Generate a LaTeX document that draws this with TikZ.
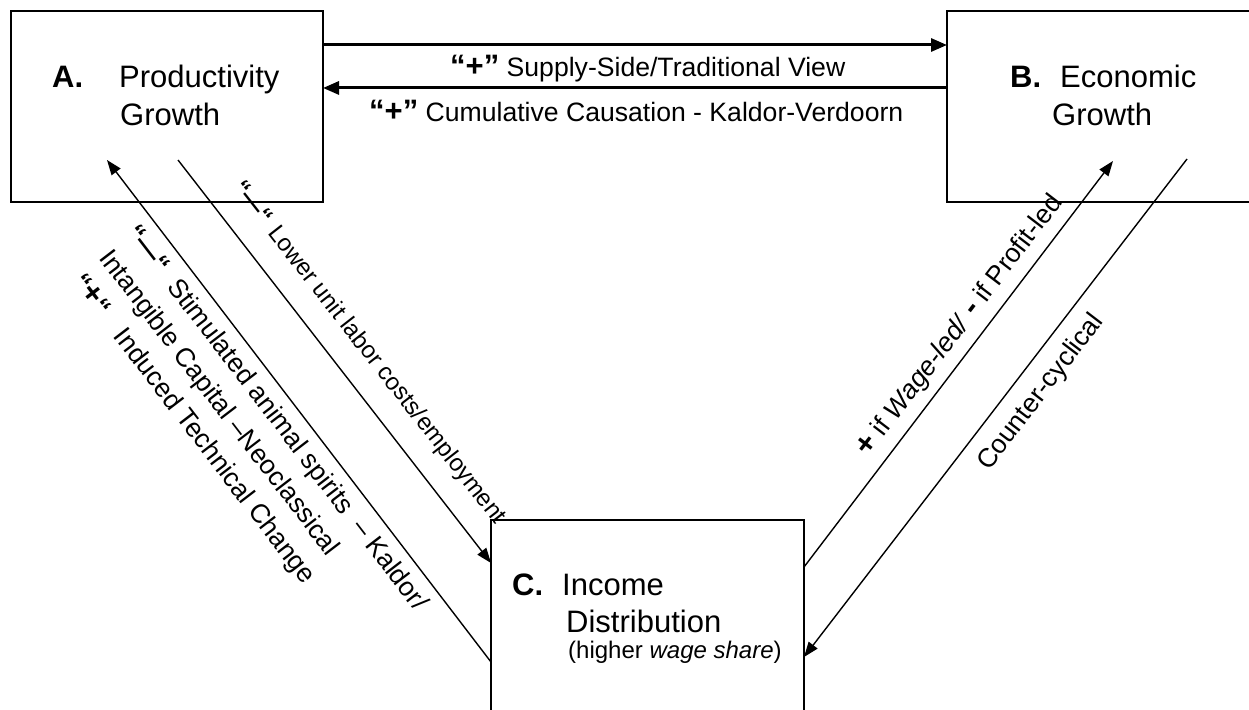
\documentclass[tikz,border=0pt]{standalone}
\usepackage{fontspec}
\setmainfont{Liberation Sans}
\usetikzlibrary{arrows.meta,calc}

\newcommand{\signq}[1]{{\fontsize{31}{31}\selectfont\bfseries #1}}

\begin{document}
\begin{tikzpicture}[x=1pt,y=-1pt,
		>={Triangle[length=15pt,width=11pt]},
		box/.style={draw,line width=2pt,inner sep=0pt,outer sep=0pt},
		big/.style={font=\fontsize{31}{37}\selectfont,anchor=base west,inner sep=0pt},
		lbl/.style={font=\fontsize{26.6}{31}\selectfont,anchor=base west,inner sep=0pt},
		bold arrow/.style={->,line width=3pt,>={Triangle[length=16pt,width=13pt]}},
		thin arrow/.style={->,line width=1.4pt}]
	\useasboundingbox (0,0) rectangle (1249,709);
	\clip (0,0) rectangle (1249,709);
	\fill[white] (0,0) rectangle (1249,709);
	% the three boxes
	\node[box,minimum width=312pt,minimum height=191pt] (A) at (167,106.5) {};
	\node[box,minimum width=315pt,minimum height=191pt] (B) at (1104.5,106.5) {};
	\node[box,minimum width=313pt,minimum height=240pt] (C) at (647.5,640) {};
	\node[big] (Atag) at (52,87) {\textbf{A.}};
	\node[big] (Aname) at (119,87) {Productivity};
	\node[big] (Aname2) at (120,125) {Growth};
	\node[big] (Btag) at (1010,87) {\textbf{B.}};
	\node[big] (Bname) at (1060,87) {Economic};
	\node[big] (Bname2) at (1052,125) {Growth};
	\node[big] (Ctag) at (512,595) {\textbf{C.}};
	\node[big] (Cname) at (562,595) {Income};
	\node[big] (Cname2) at (566,632) {Distribution};
	\node[lbl,font=\fontsize{24}{29}\selectfont] (Cnote) at (568,658) {(higher \textit{wage share})};
	% A <-> B
	\draw[bold arrow] ($(A.north east)!0.178!(A.south east)$) -- ($(B.north west)!0.178!(B.south west)$);
	\draw[bold arrow] ($(B.north west)!0.403!(B.south west)$) -- ($(A.north east)!0.403!(A.south east)$);
	\node[lbl] (supply) at (450,76) {\signq{“+”} Supply-Side/Traditional View};
	\node[lbl] (cumul) at (369,121) {\signq{“+”} Cumulative Causation - Kaldor-Verdoorn};
	% A <-> C
	\draw[thin arrow] ([shift={(167,-42)}]A.south west) -- ([shift={(0,43)}]C.north west);
	\draw[thin arrow] ([shift={(0,142)}]C.north west) -- ([shift={(96,-42)}]A.south west);
	\node[lbl,font=\fontsize{24}{29}\selectfont,rotate=-52] (lower) at (232,188) {\textbf{“—“}\hspace{9pt}Lower unit labor costs/employment};
	\node[lbl,rotate=-52.5] (spirits) at (125,233) {\textbf{“—“}\hspace{15pt}Stimulated animal spirits \ – Kaldor/};
	\node[lbl,rotate=-52.5] (intang) at (98,258) {Intangible Capital –Neoclassical};
	\node[lbl,rotate=-52.5] (induced) at (71,282) {\textbf{“}\signq{+}\textbf{“}\hspace{24pt}Induced Technical Change};
	% C <-> B
	\draw[thin arrow] ([shift={(0,47)}]C.north east) -- ([shift={(166,-41)}]B.south west);
	\draw[thin arrow] ([shift={(240,-43)}]B.south west) -- ([shift={(0,137)}]C.north east);
	\node[lbl,rotate=52.6] (wage) at (868,458) {\signq{+} if \textit{Wage-led/} \signq{-} if Profit-led};
	\node[lbl,rotate=52.6] (counter) at (989,472) {Counter-cyclical};
\end{tikzpicture}
\end{document}
